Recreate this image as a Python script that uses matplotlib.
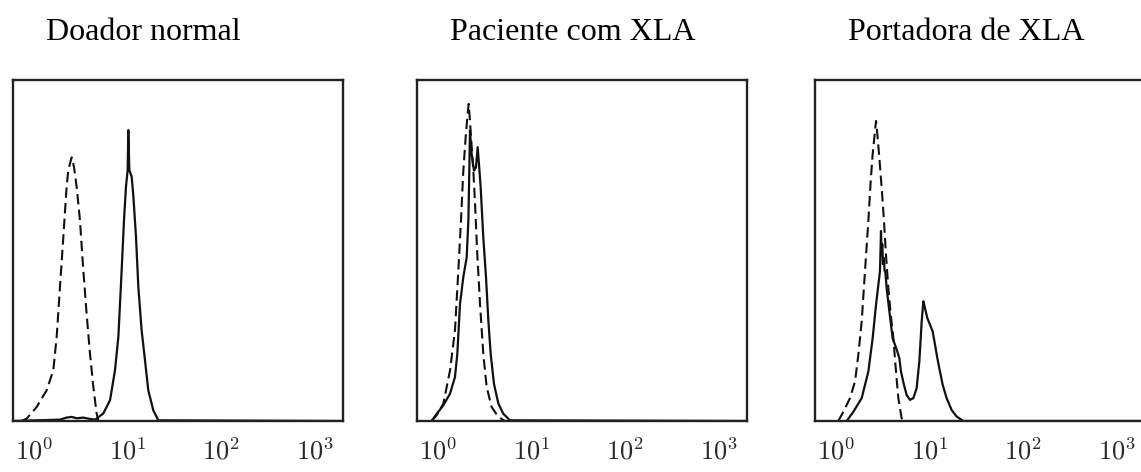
import numpy as np
import matplotlib
matplotlib.use("Agg")
import matplotlib.pyplot as plt

plt.rcParams['mathtext.fontset'] = 'cm'

titles = ["Doador normal", "Paciente com XLA", "Portadora de XLA"]
decades = [0, 1, 2, 3]
tick_labels = [r"$10^{0}$", r"$10^{1}$", r"$10^{2}$", r"$10^{3}$"]

# log10 fluorescence / relative cell count (0-100)
# Doador normal
d1_x = [-0.128, -0.074, 0.032, 0.139, 0.210, 0.246, 0.281, 0.317, 0.352, 0.370, 0.388,
        0.406, 0.430, 0.459, 0.494, 0.530, 0.565, 0.601, 0.637, 0.672, 0.690]
d1_y = [0.0, 0.7, 4.1, 9.0, 14.9, 24.7, 39.3, 54.0, 68.7, 73.6, 75.5,
        77.3, 74.6, 68.7, 58.9, 44.2, 31.5, 19.8, 10.0, 2.2, 0.2]
s1_x = [-0.217, 0.281, 0.352, 0.406, 0.459, 0.530, 0.601, 0.654, 0.672, 0.743, 0.815,
        0.868, 0.904, 0.939, 0.964, 0.985, 1.003, 1.010, 1.021, 1.046, 1.064, 1.092,
        1.117, 1.152, 1.188, 1.223, 1.277, 1.330, 3.30]
s1_y = [0.0, 0.4, 1.0, 1.2, 0.8, 1.0, 0.6, 0.4, 0.7, 2.2, 6.1,
        14.9, 24.7, 44.2, 58.9, 68.7, 73.6, 85.3, 73.6, 71.6, 65.8, 54.0,
        39.3, 26.6, 17.8, 9.0, 3.1, 0.2, 0.0]

# Paciente com XLA
d2_x = [-0.064, -0.010, 0.061, 0.132, 0.185, 0.221, 0.249, 0.274, 0.299, 0.320, 0.331,
        0.345, 0.363, 0.381, 0.399, 0.423, 0.452, 0.487, 0.523, 0.576, 0.648, 0.719]
d2_y = [0.0, 1.7, 5.1, 14.8, 26.6, 44.1, 58.8, 73.4, 83.2, 90.0, 93.0,
        88.1, 80.3, 73.4, 63.7, 49.0, 34.4, 19.7, 10.0, 4.1, 1.2, 0.0]
s2_x = [-0.064, -0.010, 0.061, 0.132, 0.185, 0.210, 0.239, 0.274, 0.310, 0.328, 0.338,
        0.345, 0.363, 0.388, 0.409, 0.427, 0.441, 0.459, 0.487, 0.516, 0.541, 0.566,
        0.601, 0.648, 0.701, 0.772, 3.30]
s2_y = [0.0, 2.1, 4.6, 8.0, 12.9, 19.7, 34.4, 42.2, 48.0, 58.8, 73.4,
        85.2, 78.3, 73.4, 74.4, 80.3, 75.4, 68.6, 53.9, 42.2, 29.5, 19.7,
        10.9, 5.1, 2.1, 0.2, 0.0]

# Portadora de XLA
d3_x = [0.029, 0.082, 0.153, 0.207, 0.242, 0.278, 0.313, 0.349, 0.374, 0.395, 0.420,
        0.431, 0.445, 0.466, 0.491, 0.516, 0.537, 0.562, 0.587, 0.616, 0.644, 0.669,
        0.704, 0.722]
d3_y = [0.0, 2.7, 6.7, 11.6, 19.4, 29.2, 43.9, 58.6, 70.4, 78.2, 85.1,
        88.0, 84.1, 77.3, 68.4, 58.6, 48.8, 39.0, 31.4, 24.3, 14.5, 6.7,
        0.8, 0.0]
s3_x = [0.118, 0.189, 0.278, 0.349, 0.395, 0.431, 0.456, 0.473, 0.484, 0.490, 0.498,
        0.505, 0.516, 0.522, 0.530, 0.544, 0.573, 0.608, 0.658, 0.680, 0.697, 0.729,
        0.758, 0.793, 0.829, 0.864, 0.893, 0.918, 0.936, 0.953, 0.978, 1.007, 1.035,
        1.060, 1.085, 1.113, 1.142, 1.184, 1.238, 1.291, 1.362, 3.30]
s3_y = [0.0, 2.7, 6.7, 14.5, 24.3, 34.1, 40.0, 43.9, 55.7, 50.0, 51.8,
        46.0, 47.8, 44.0, 43.9, 39.0, 32.2, 24.3, 20.4, 18.4, 14.5, 10.6,
        7.6, 6.2, 6.7, 9.6, 17.5, 29.2, 35.1, 33.1, 30.2, 28.2, 26.3,
        22.4, 18.4, 14.5, 10.6, 6.7, 3.2, 1.3, 0.0, 0.0]

dashed = [(d1_x, d1_y), (d2_x, d2_y), (d3_x, d3_y)]
solid = [(s1_x, s1_y), (s2_x, s2_y), (s3_x, s3_y)]

fig = plt.figure(figsize=(11.41, 4.72), dpi=100)
lefts = [13, 417, 815]

for i in range(3):
    ax = fig.add_axes([lefts[i] / 1141, 51 / 472, 330 / 1141, 341 / 472])
    dx, dy = dashed[i]
    sx, sy = solid[i]
    ax.plot(10 ** np.array(dx), dy, color="#111111", lw=1.5, dashes=(5, 2.5))
    ax.plot(10 ** np.array(sx), sy, color="#111111", lw=1.6)
    ax.set_xscale("log")
    ax.set_xlim(10 ** -0.22, 10 ** 3.30)
    ax.set_ylim(0, 100)
    ax.set_xticks([10 ** d for d in decades])
    ax.set_xticklabels(tick_labels)
    ax.minorticks_off()
    ax.set_yticks([])
    ax.tick_params(axis="x", length=0, pad=13, labelsize=19, labelcolor="#2a2a2a")
    for sp in ax.spines.values():
        sp.set_linewidth(1.7)
        sp.set_color("#222222")
    fig.text((lefts[i] + 33) / 1141, 1 - 40 / 472, titles[i], fontsize=23,
             family="Liberation Serif", ha="left", va="baseline")

fig.savefig("out.png", dpi=100)
